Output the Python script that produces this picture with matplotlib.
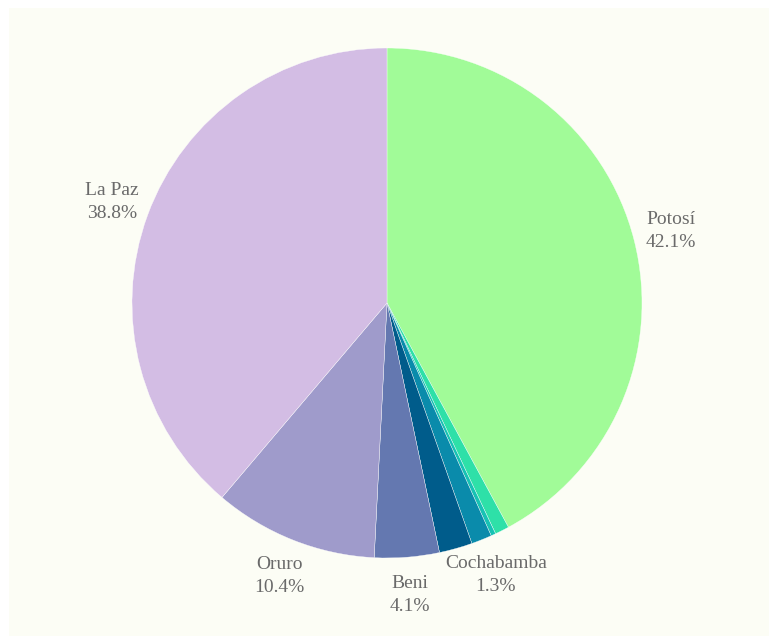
import numpy as np
import matplotlib.pyplot as plt
from matplotlib.patches import Rectangle

# slices in clockwise order starting from the top
departments = ['Potosí', 'Chuquisaca', 'Tarija', 'Cochabamba', 'Santa Cruz', 'Beni', 'Oruro', 'La Paz']
shares = [42.1, 0.9, 0.3, 1.3, 2.1, 4.1, 10.4, 38.8]
show_label = [True, False, False, True, False, True, True, True]
colors = ['#a1fb98', '#2ee0a8', '#17c2b4', '#0a8bab', '#005c8b', '#6478b0', '#9f9bcb', '#d3bde4']

fig = plt.figure(figsize=(7.69, 6.36), dpi=100)
fig.patch.set_facecolor('white')
fig.add_artist(Rectangle((9 / 769, 0), 1, (636 - 8) / 636, transform=fig.transFigure,
                         facecolor='#fcfdf5', edgecolor='none', zorder=0))

ax = fig.add_axes([(387 - 255) / 769, (636 - 303 - 255) / 636, 510 / 769, 510 / 636])
ax.set_facecolor('none')

wedges, _ = ax.pie(shares, colors=colors, startangle=90, counterclock=False,
                   wedgeprops=dict(edgecolor='white', linewidth=0.25))

for w, name, val, show in zip(wedges, departments, shares, show_label):
    if not show:
        continue
    mid = np.deg2rad((w.theta1 + w.theta2) / 2)
    r = 1.15
    ax.text(r * np.cos(mid), r * np.sin(mid), f'{name}\n{val}%',
            ha='center', va='center', fontsize=14, color='#6a6a6a',
            family='Liberation Serif', linespacing=1.45)

ax.set_xlim(-1, 1)
ax.set_ylim(-1, 1)
ax.set_aspect('equal')
ax.axis('off')

fig.savefig('out.png', dpi=100)
